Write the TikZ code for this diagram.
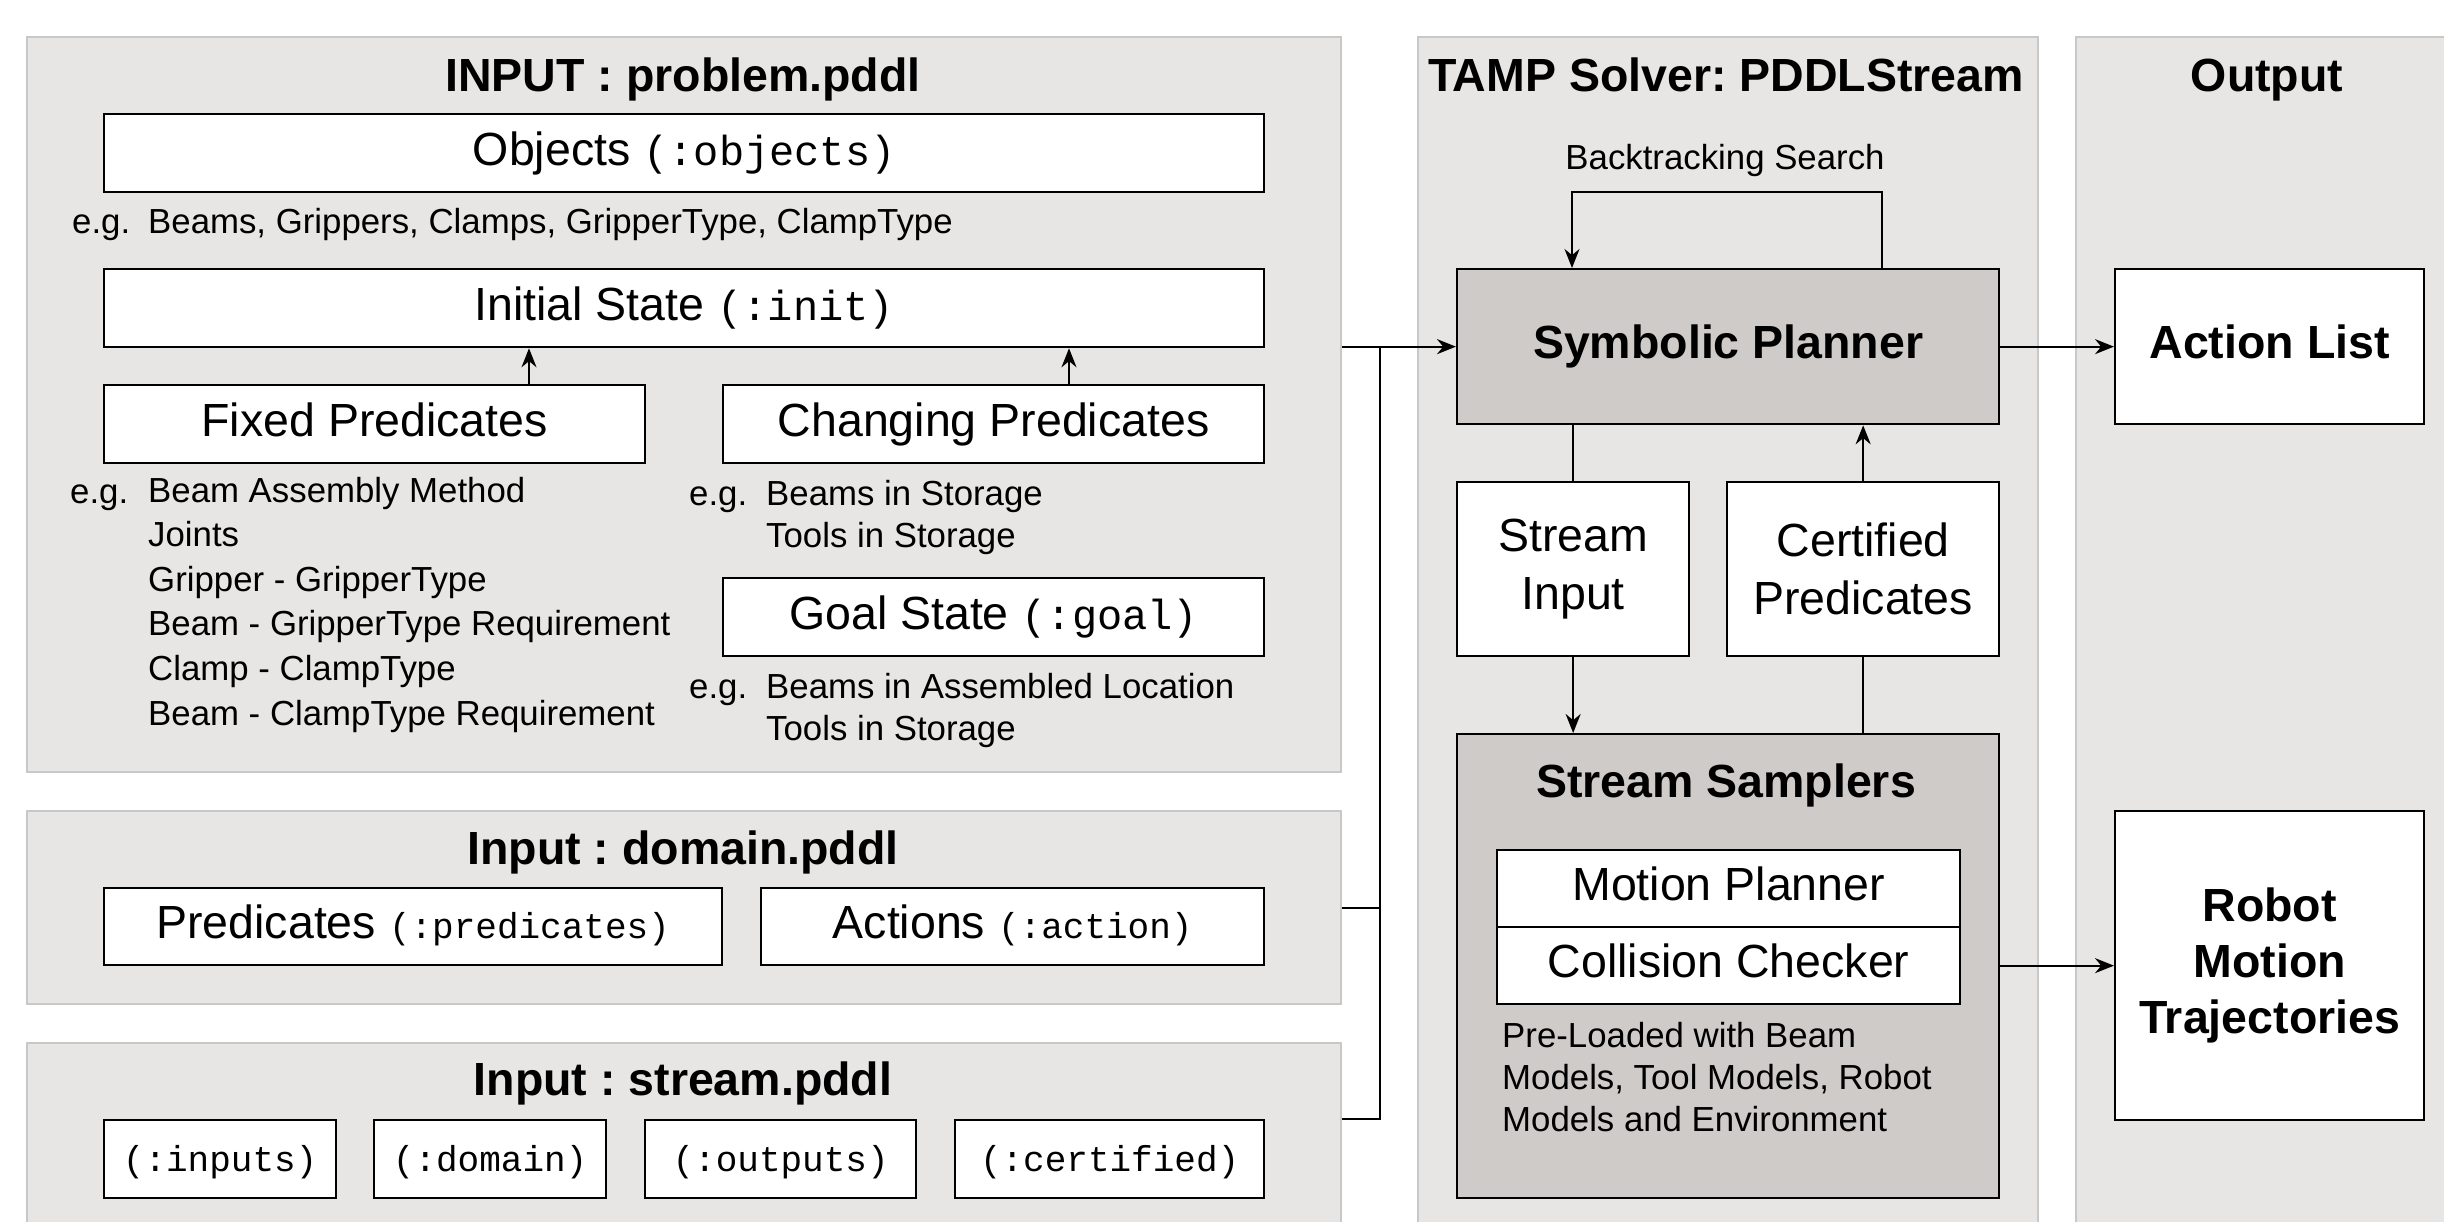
\documentclass[tikz,border=0pt]{standalone}
\usepackage{fontspec}
\setmainfont{Liberation Sans}
\setmonofont{Liberation Mono}
\usetikzlibrary{arrows.meta,calc}

\definecolor{panelfill}{RGB}{231,230,229}
\definecolor{paneledge}{RGB}{200,200,200}
\definecolor{darkfill}{RGB}{207,203,200}

\newcommand{\FBig}{\fontsize{46.5}{58}\selectfont}
\newcommand{\FSmall}{\fontsize{34.8}{42}\selectfont}
\newcommand{\FMonoA}{\fontsize{42}{50}\selectfont\ttfamily}
\newcommand{\FMonoB}{\fontsize{36}{44}\selectfont\ttfamily}

\begin{document}
\frenchspacing
\begin{tikzpicture}[x=1pt,y=-1pt,
  panel/.style={draw=paneledge, fill=panelfill, line width=2pt, inner sep=0pt, anchor=north west},
  box/.style={draw=black, fill=white, line width=2.3pt, inner sep=0pt, anchor=north west,
              font=\FBig, text height=33pt, text depth=9pt},
  mbox/.style={draw=black, fill=white, line width=2.3pt, inner sep=0pt, anchor=north west,
              font=\FBig, align=center},
  txt/.style={inner sep=0pt, anchor=base west, font=\FSmall},
  ttl/.style={inner sep=0pt, anchor=base, font=\FBig\bfseries},
  conn/.style={line width=2pt, draw=black},
  arr/.style={conn, -{Stealth[length=19pt,width=15pt]}}
]
\fill[white] (0,0) rectangle (2444,1222);
\clip (0,0) rectangle (2444,1222);

% ---------- panels ----------
\node[panel, minimum width=1314pt, minimum height=735pt] (p1) at (26,36) {};
\node[panel, minimum width=1314pt, minimum height=193pt] (p2) at (26,810) {};
\node[panel, minimum width=1314pt, minimum height=240pt] (p3) at (26,1042) {};
\node[panel, minimum width=620pt, minimum height=1240pt] (pt) at (1417,36) {};
\node[panel, minimum width=420pt, minimum height=1240pt] (po) at (2075,36) {};

% ---------- titles ----------
\node[ttl] (t1) at (683,92) {INPUT : problem.pddl};
\node[ttl] (t2) at (683,864) {Input : domain.pddl};
\node[ttl] (t3) at (683,1095) {Input : stream.pddl};
\node[ttl] (t4) at (1726,92) {TAMP Solver: PDDLStream};
\node[ttl] (t5) at (2267,92) {Output};

% ---------- problem.pddl ----------
\node[box, minimum width=1160pt, minimum height=78pt] (obj) at (103,113) {Objects {\FMonoA(:objects)}};
\node[txt] (egobj) at (72,234) {e.g.};
\node[txt] (objlist) at (148,234) {Beams, Grippers, Clamps, GripperType, ClampType};

\node[box, minimum width=1160pt, minimum height=78pt] (init) at (103,268) {Initial State {\FMonoA(:init)}};
\node[box, minimum width=541pt, minimum height=78pt] (fixed) at (103,384) {Fixed Predicates};
\node[box, minimum width=541pt, minimum height=78pt] (chg) at (722,384) {Changing Predicates};
\node[box, minimum width=541pt, minimum height=78pt] (goal) at (722,577) {Goal State {\FMonoA(:goal)}};

\node[txt] (egfx) at (70,503) {e.g.};
\foreach \t [count=\i from 0] in {Beam Assembly Method, Joints, Gripper - GripperType,
    Beam - GripperType Requirement, Clamp - ClampType, Beam - ClampType Requirement}
  \node[txt] (fx\i) at (148,{502+44.6*\i}) {\t};

\node[txt] (egch) at (689,505) {e.g.};
\node[txt] (ch1) at (766,505) {Beams in Storage};
\node[txt] (ch2) at (766,547) {Tools in Storage};

\node[txt] (eggo) at (689,698) {e.g.};
\node[txt] (go1) at (766,698) {Beams in Assembled Location};
\node[txt] (go2) at (766,740) {Tools in Storage};

\draw[arr] ([xshift=426pt]fixed.north west) -- ([xshift=426pt]fixed.north west |- init.south);
\draw[arr] ([xshift=347pt]chg.north west) -- ([xshift=347pt]chg.north west |- init.south);

% ---------- domain.pddl ----------
\node[box, minimum width=618pt, minimum height=77pt] (pred) at (103,887) {Predicates {\FMonoB(:predicates)}};
\node[box, minimum width=503pt, minimum height=77pt] (act) at (760,887) {Actions {\FMonoB(:action)}};

% ---------- stream.pddl ----------
\node[box, minimum width=232pt, minimum height=78pt, font=\FMonoB] (s1) at (103,1119) {(:inputs)};
\node[box, minimum width=232pt, minimum height=78pt, font=\FMonoB] (s2) at (373,1119) {(:domain)};
\node[box, minimum width=271pt, minimum height=78pt, font=\FMonoB] (s3) at (644,1119) {(:outputs)};
\node[box, minimum width=309pt, minimum height=78pt, font=\FMonoB] (s4) at (954,1119) {(:certified)};

% ---------- TAMP solver ----------
\node[box, fill=darkfill, minimum width=542pt, minimum height=155pt, font=\FBig\bfseries] (planner) at (1456,268) {Symbolic Planner};
\node[mbox, minimum width=232pt, minimum height=174pt, font=\fontsize{46.5}{58}\selectfont] (sin) at (1456,481) {Stream\\Input};
\node[mbox, minimum width=272pt, minimum height=174pt, font=\fontsize{46.5}{58}\selectfont] (cert) at (1726,481) {Certified\\Predicates};
\node[mbox, fill=darkfill, minimum width=542pt, minimum height=464pt] (samp) at (1456,733) {};
\node[ttl] (samptitle) at (1726,797) {Stream Samplers};
\node[box, minimum width=463pt, minimum height=77pt] (mp) at (1496,849) {Motion Planner};
\node[box, minimum width=463pt, minimum height=77pt] (cc) at (1496,926) {Collision Checker};
\node[txt] (pl1) at (1502,1047) {Pre-Loaded with Beam};
\node[txt] (pl2) at (1502,1089) {Models, Tool Models, Robot};
\node[txt] (pl3) at (1502,1131) {Models and Environment};

\node[txt, anchor=base] (bt) at (1725,170) {Backtracking Search};

% ---------- Output ----------
\node[box, minimum width=309pt, minimum height=155pt, font=\FBig\bfseries] (action) at (2114,268) {Action List};
\node[mbox, minimum width=309pt, minimum height=309pt, font=\fontsize{46.5}{56}\selectfont\bfseries] (robot) at (2114,810) {Robot\\Motion\\Trajectories};

% ---------- connectors ----------
\coordinate (jtop) at ($(p1.east |- planner.west)+(38,0)$);
\draw[arr] (p1.east |- planner.west) -- (planner.west);
\draw[conn] (p2.east) -- (jtop |- p2.east);
\draw[conn] (p3.east |- s4.north) -- (jtop |- s4.north) -- (jtop);

\draw[arr] (planner.east) -- (action.west);
\draw[arr] ([xshift=426pt]planner.north west) -- ++(0,-76) -| ([xshift=116pt]planner.north west);

\draw[conn] (planner.south -| sin.north) -- (sin.north);
\draw[arr] (cert.north) -- (cert.north |- planner.south);
\draw[arr] (sin.south) -- (sin.south |- samp.north);
\draw[conn] (cert.south) -- (cert.south |- samp.north);
\draw[arr] (samp.east |- robot.west) -- (robot.west);
\end{tikzpicture}
\end{document}
